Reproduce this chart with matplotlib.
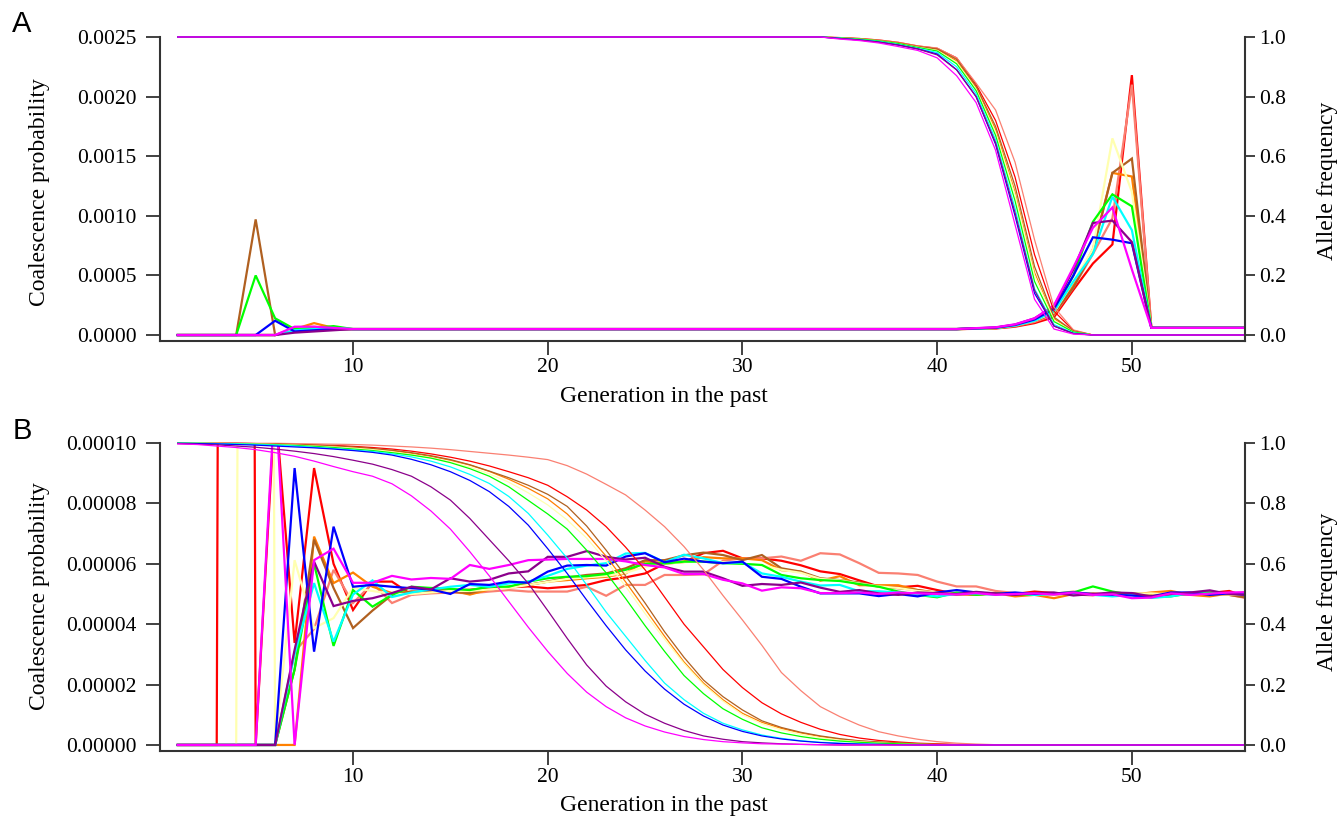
import matplotlib
matplotlib.use("Agg")
import numpy as np
import matplotlib.pyplot as plt
from matplotlib.ticker import FormatStrFormatter, FixedLocator
from matplotlib.patches import Rectangle

plt.rcParams["font.family"] = ["Liberation Serif", "DejaVu Serif"]

# generations in the past
generations = list(range(1, 57))
x_ticks = [10, 20, 30, 40, 50]

series_names = ["red", "salmon", "orange", "brown", "lightyellow",
                "green", "cyan", "blue", "purple", "magenta"]
series_colours = ["#FF0000", "#FA8072", "#FF8000", "#B06020", "#FFFFB0",
                  "#00FF00", "#00FFFF", "#0000FF", "#8B008B", "#FF00FF"]

# ---------------- Panel A: coalescence probability ----------------
a_coal_red = [0, 0, 0, 0, 0, 0, 5e-5, 6e-5, 5e-5] + [5e-5] * 32 + \
    [5.2e-5, 5.5e-5, 7.0e-5, 1.0e-4, 1.5e-4, 3.8e-4, 6.0e-4, 7.6e-4, 2.18e-3] + [6e-5] * 6
a_coal_salmon = [0, 0, 0, 0, 0, 0, 6e-5, 7e-5, 5e-5] + [5e-5] * 32 + \
    [5.3e-5, 5.7e-5, 7.5e-5, 1.1e-4, 1.7e-4, 4.0e-4, 6.8e-4, 9.8e-4, 2.10e-3] + [6e-5] * 6
a_coal_orange = [0, 0, 0, 0, 0, 0, 5e-5, 1.0e-4, 6e-5] + [5e-5] * 32 + \
    [5.3e-5, 5.8e-5, 7.8e-5, 1.2e-4, 1.8e-4, 4.2e-4, 7.2e-4, 1.36e-3, 1.33e-3] + [6e-5] * 6
a_coal_brown = [0, 0, 0, 0, 9.7e-4, 0, 4e-5, 6e-5, 5e-5] + [5e-5] * 32 + \
    [5.3e-5, 5.8e-5, 7.7e-5, 1.2e-4, 1.8e-4, 4.0e-4, 7.0e-4, 1.36e-3, 1.48e-3] + [6e-5] * 6
a_coal_lightyellow = [0, 0, 0, 0, 0, 0, 5e-5, 7e-5, 5e-5] + [5e-5] * 32 + \
    [5.4e-5, 5.9e-5, 8.0e-5, 1.2e-4, 1.9e-4, 4.5e-4, 7.2e-4, 1.65e-3, 1.20e-3] + [6e-5] * 6
a_coal_green = [0, 0, 0, 0, 5.0e-4, 1.4e-4, 5e-5, 6e-5, 7.5e-5] + [5e-5] * 32 + \
    [5.5e-5, 6.0e-5, 8.2e-5, 1.3e-4, 2.0e-4, 5.0e-4, 9.5e-4, 1.18e-3, 1.08e-3] + [6e-5] * 6
a_coal_cyan = [0, 0, 0, 0, 0, 0, 4e-5, 5e-5, 6e-5] + [5e-5] * 32 + \
    [5.5e-5, 6.0e-5, 8.0e-5, 1.2e-4, 2.0e-4, 4.5e-4, 6.8e-4, 1.16e-3, 8.8e-4] + [6e-5] * 6
a_coal_blue = [0, 0, 0, 0, 0, 1.2e-4, 3e-5, 4e-5, 5e-5] + [5e-5] * 32 + \
    [5.6e-5, 6.2e-5, 8.5e-5, 1.3e-4, 2.2e-4, 5.0e-4, 8.2e-4, 8.0e-4, 7.7e-4] + [6e-5] * 6
a_coal_purple = [0, 0, 0, 0, 0, 0, 2e-5, 3e-5, 4e-5] + [5e-5] * 32 + \
    [5.7e-5, 6.3e-5, 8.8e-5, 1.4e-4, 2.4e-4, 5.5e-4, 9.4e-4, 9.6e-4, 7.8e-4] + [6e-5] * 6
a_coal_magenta = [0, 0, 0, 0, 0, 0, 7e-5, 7e-5, 6e-5] + [5e-5] * 32 + \
    [5.8e-5, 6.5e-5, 9.0e-5, 1.4e-4, 2.5e-4, 5.7e-4, 9.0e-4, 1.07e-3, 5.5e-4] + [6e-5] * 6

# ---------------- Panel A: allele frequency ----------------
a_freq_red = [1.0] * 34 + [0.998, 0.995, 0.99, 0.982, 0.97, 0.962, 0.93, 0.84, 0.72, 0.53, 0.27, 0.08, 0.015, 0] + [0.0] * 8
a_freq_salmon = [1.0] * 34 + [0.998, 0.995, 0.99, 0.982, 0.97, 0.963, 0.93, 0.845, 0.755, 0.58, 0.32, 0.094, 0.017, 0] + [0.0] * 8
a_freq_orange = [1.0] * 34 + [0.997, 0.994, 0.988, 0.98, 0.968, 0.958, 0.92, 0.83, 0.69, 0.48, 0.21, 0.055, 0.012, 0] + [0.0] * 8
a_freq_brown = [1.0] * 34 + [0.997, 0.994, 0.988, 0.98, 0.968, 0.96, 0.925, 0.835, 0.70, 0.50, 0.23, 0.06, 0.013, 0] + [0.0] * 8
a_freq_lightyellow = [1.0] * 34 + [0.997, 0.993, 0.987, 0.978, 0.966, 0.955, 0.915, 0.825, 0.68, 0.47, 0.20, 0.05, 0.01, 0] + [0.0] * 8
a_freq_green = [1.0] * 34 + [0.997, 0.993, 0.987, 0.978, 0.965, 0.953, 0.91, 0.82, 0.67, 0.45, 0.18, 0.045, 0.01, 0] + [0.0] * 8
a_freq_cyan = [1.0] * 34 + [0.996, 0.991, 0.985, 0.975, 0.962, 0.948, 0.90, 0.81, 0.655, 0.425, 0.155, 0.035, 0.007, 0] + [0.0] * 8
a_freq_blue = [1.0] * 34 + [0.995, 0.99, 0.983, 0.973, 0.96, 0.943, 0.89, 0.80, 0.64, 0.40, 0.14, 0.03, 0.005, 0] + [0.0] * 8
a_freq_purple = [1.0] * 34 + [0.995, 0.99, 0.983, 0.973, 0.96, 0.94, 0.89, 0.80, 0.645, 0.41, 0.15, 0.03, 0.005, 0] + [0.0] * 8
a_freq_magenta = [1.0] * 34 + [0.993, 0.988, 0.98, 0.968, 0.955, 0.93, 0.87, 0.78, 0.62, 0.37, 0.12, 0.02, 0.003, 0] + [0.0] * 8

# ---------------- Panel B: coalescence probability (units of 1e-5) ----------------
b_coal_red = [0, 0, 0, 200, 0, 11.3, 3.38, 9.17, 6.0, 4.47,
              5.41, 5.41, 4.98, 5.12, 5.12, 5.14, 5.2, 5.22, 5.25, 5.19,
              5.24, 5.3, 5.46, 5.55, 5.68, 6.0, 6.06, 6.35, 6.43, 6.18,
              6.18, 6.1, 5.95, 5.75, 5.66, 5.45, 5.25, 5.22, 5.27, 5.13,
              5.0, 4.97, 5.03, 5.0, 5.08, 5.03, 4.98, 4.96, 5.04, 4.98,
              4.94, 5.0, 4.98, 5.03, 5.1, 4.88]
b_coal_salmon = [0, 0, 0, 0, 0, 0, 3.08, 3.84, 5.8, 4.7,
                 5.35, 4.7, 4.97, 5.02, 5.05, 5.02, 5.08, 5.13, 5.08, 5.08,
                 5.08, 5.24, 4.94, 5.3, 5.3, 5.63, 5.63, 5.65, 6.1, 6.18,
                 6.18, 6.24, 6.1, 6.35, 6.31, 6.02, 5.7, 5.68, 5.63, 5.41,
                 5.25, 5.25, 5.1, 5.03, 4.97, 5.0, 5.08, 4.97, 5.02, 4.97,
                 4.92, 4.97, 5.02, 5.0, 4.97, 4.85]
b_coal_orange = [0, 0, 0, 0, 0, 0, 0, 6.9, 5.36, 5.71,
                 5.24, 5.03, 5.08, 5.05, 5.13, 4.98, 5.15, 5.24, 5.3, 5.41,
                 5.46, 5.52, 5.57, 5.68, 6.08, 6.02, 6.08, 6.22, 6.18, 6.18,
                 6.12, 5.79, 5.74, 5.44, 5.59, 5.29, 5.29, 5.29, 5.13, 5.05,
                 5.02, 4.97, 5.03, 4.92, 4.97, 4.86, 5.0, 5.02, 4.97, 4.97,
                 5.05, 5.1, 4.97, 4.92, 5.02, 5.05]
b_coal_brown = [0, 0, 0, 0, 0, 0, 2.5, 6.8, 5.2, 3.87,
                4.45, 4.97, 5.08, 5.08, 5.08, 5.03, 5.19, 5.24, 5.3, 5.41,
                5.54, 5.63, 5.68, 5.85, 6.12, 6.12, 6.28, 6.37, 6.29, 6.12,
                6.29, 5.85, 5.74, 5.52, 5.46, 5.38, 5.24, 5.19, 5.13, 5.03,
                4.97, 5.03, 5.0, 4.97, 5.03, 4.97, 5.03, 5.0, 4.95, 5.03,
                4.97, 4.97, 5.0, 5.05, 4.97, 4.87]
b_coal_lightyellow = [0, 0, 0, 0, 150, 0, 6.12, 3.87, 4.2, 5.2,
                      5.1, 5.0, 5.0, 5.05, 5.1, 5.1, 5.15, 5.2, 5.3, 5.4,
                      5.5, 5.55, 5.6, 5.7, 5.9, 6.0, 6.05, 6.1, 6.05, 6.0,
                      5.95, 5.8, 5.7, 5.5, 5.45, 5.35, 5.25, 5.2, 5.1, 5.05,
                      5.0, 5.0, 4.98, 5.02, 5.0, 4.98, 5.02, 5.0, 4.98, 5.0,
                      5.02, 4.98, 5.0, 5.02, 4.98, 5.0]
b_coal_green = [0, 0, 0, 0, 0, 0, 2.5, 6.0, 3.28, 5.13,
                4.58, 4.97, 5.24, 5.2, 5.17, 5.13, 5.24, 5.24, 5.41, 5.52,
                5.57, 5.59, 5.66, 5.8, 6.0, 6.01, 6.07, 6.07, 6.02, 6.0,
                5.96, 5.63, 5.52, 5.46, 5.43, 5.33, 5.24, 5.08, 4.97, 4.89,
                5.05, 4.97, 5.02, 5.0, 4.97, 5.02, 5.05, 5.25, 5.08, 4.97,
                4.89, 4.92, 5.02, 5.05, 5.0, 5.03]
b_coal_cyan = [0, 0, 0, 0, 0, 0, 3.0, 5.36, 3.42, 4.98,
               5.45, 4.9, 5.05, 5.15, 5.24, 5.3, 5.24, 5.35, 5.41, 5.6,
               5.83, 5.94, 6.02, 6.34, 6.36, 6.05, 6.3, 6.18, 6.02, 6.05,
               5.68, 5.57, 5.41, 5.28, 5.3, 5.09, 5.09, 5.05, 4.98, 4.92,
               5.0, 5.02, 4.97, 5.03, 4.97, 5.0, 5.02, 4.97, 4.92, 4.97,
               4.87, 4.92, 5.03, 5.0, 5.02, 4.97]
b_coal_blue = [0, 0, 0, 0, 0, 0, 9.17, 3.09, 7.23, 5.24,
               5.3, 5.24, 5.19, 5.15, 5.0, 5.33, 5.3, 5.41, 5.37, 5.74,
               5.94, 5.96, 5.94, 6.24, 6.35, 6.05, 6.17, 6.07, 6.02, 6.07,
               5.57, 5.5, 5.24, 5.02, 5.02, 5.02, 4.93, 5.0, 4.92, 5.05,
               5.13, 5.05, 5.0, 5.05, 5.0, 5.02, 5.05, 5.0, 4.97, 4.95,
               4.92, 5.05, 5.05, 4.97, 5.02, 4.97]
b_coal_purple = [0, 0, 0, 0, 0, 0, 3.15, 6.07, 4.6, 4.77,
                 4.86, 5.03, 5.24, 5.15, 5.52, 5.41, 5.47, 5.68, 5.75, 6.23,
                 6.23, 6.42, 6.23, 6.14, 6.2, 5.9, 5.74, 5.74, 5.52, 5.27,
                 5.33, 5.3, 5.38, 5.21, 5.07, 5.13, 5.02, 4.97, 5.05, 5.03,
                 5.0, 5.07, 5.02, 4.97, 5.03, 5.05, 4.95, 5.0, 5.05, 5.03,
                 4.92, 5.0, 5.05, 5.12, 5.0, 4.97]
b_coal_magenta = [0, 0, 0, 0, 0, 11.7, 0, 6.12, 6.5, 5.37,
                  5.37, 5.6, 5.48, 5.53, 5.5, 5.96, 5.83, 5.96, 6.12, 6.14,
                  6.16, 6.16, 6.16, 6.08, 5.96, 5.88, 5.66, 5.66, 5.47, 5.35,
                  5.11, 5.22, 5.19, 5.03, 5.03, 5.05, 5.0, 5.05, 5.02, 5.0,
                  4.98, 5.03, 4.97, 5.0, 5.02, 4.98, 5.05, 4.97, 4.99, 4.86,
                  4.88, 5.02, 4.97, 5.01, 5.05, 5.06]
B_COAL_UNIT = 1e-5

# ---------------- Panel B: allele frequency ----------------
b_freq_red = [1.0, 1.0, 1.0, 0.999, 0.998, 0.997, 0.996, 0.994, 0.992, 0.989,
              0.985, 0.98, 0.973, 0.964, 0.953, 0.94, 0.924, 0.905, 0.885, 0.86,
              0.822, 0.778, 0.723, 0.655, 0.58, 0.49, 0.40, 0.325, 0.25, 0.19,
              0.14, 0.103, 0.075, 0.052, 0.035, 0.023, 0.015, 0.01, 0.006, 0.004,
              0.002, 0.001]
b_freq_salmon = [1.0, 1.0, 1.0, 1.0, 0.999, 0.999, 0.998, 0.997, 0.996, 0.995,
                 0.993, 0.99, 0.987, 0.983, 0.978, 0.972, 0.966, 0.96, 0.953, 0.945,
                 0.925, 0.897, 0.863, 0.828, 0.778, 0.723, 0.657, 0.58, 0.495, 0.414,
                 0.33, 0.24, 0.18, 0.127, 0.094, 0.066, 0.044, 0.03, 0.019, 0.011,
                 0.006, 0.003, 0.001]
b_freq_orange = [1.0, 1.0, 0.999, 0.998, 0.997, 0.996, 0.994, 0.992, 0.989, 0.985,
                 0.98, 0.974, 0.966, 0.956, 0.943, 0.927, 0.906, 0.88, 0.85, 0.815,
                 0.765, 0.70, 0.625, 0.54, 0.45, 0.36, 0.275, 0.205, 0.15, 0.105,
                 0.075, 0.055, 0.04, 0.028, 0.019, 0.013, 0.009, 0.006, 0.004, 0.002,
                 0.001]
b_freq_brown = [1.0, 1.0, 0.999, 0.999, 0.998, 0.997, 0.995, 0.993, 0.99, 0.987,
                0.982, 0.976, 0.968, 0.958, 0.945, 0.928, 0.907, 0.885, 0.86, 0.83,
                0.79, 0.725, 0.645, 0.56, 0.47, 0.375, 0.29, 0.215, 0.16, 0.116,
                0.08, 0.058, 0.042, 0.03, 0.021, 0.014, 0.01, 0.007, 0.004, 0.002,
                0.001]
b_freq_lightyellow = [1.0, 1.0, 0.999, 0.998, 0.997, 0.995, 0.993, 0.99, 0.987, 0.983,
                      0.978, 0.971, 0.962, 0.951, 0.937, 0.92, 0.898, 0.87, 0.835, 0.795,
                      0.745, 0.685, 0.61, 0.525, 0.435, 0.35, 0.27, 0.2, 0.145, 0.1,
                      0.07, 0.05, 0.035, 0.024, 0.016, 0.011, 0.007, 0.004, 0.002, 0.001]
b_freq_green = [1.0, 0.999, 0.998, 0.997, 0.996, 0.994, 0.992, 0.989, 0.985, 0.98,
                0.975, 0.968, 0.96, 0.95, 0.935, 0.915, 0.89, 0.855, 0.81, 0.765,
                0.715, 0.645, 0.57, 0.485, 0.395, 0.31, 0.23, 0.17, 0.12, 0.085,
                0.057, 0.04, 0.028, 0.019, 0.013, 0.009, 0.006, 0.004, 0.002, 0.001]
b_freq_cyan = [0.999, 0.999, 0.998, 0.997, 0.995, 0.993, 0.99, 0.986, 0.982, 0.977,
               0.972, 0.964, 0.954, 0.94, 0.921, 0.896, 0.866, 0.823, 0.767, 0.695,
               0.618, 0.53, 0.44, 0.36, 0.28, 0.205, 0.15, 0.105, 0.072, 0.05,
               0.033, 0.022, 0.014, 0.009, 0.006, 0.004, 0.002, 0.001]
b_freq_blue = [0.999, 0.998, 0.997, 0.995, 0.993, 0.99, 0.987, 0.984, 0.98, 0.975,
               0.969, 0.96, 0.946, 0.928, 0.905, 0.876, 0.839, 0.79, 0.728, 0.65,
               0.568, 0.48, 0.395, 0.315, 0.245, 0.185, 0.135, 0.096, 0.066, 0.045,
               0.03, 0.02, 0.013, 0.008, 0.005, 0.003, 0.002, 0.001]
b_freq_purple = [0.998, 0.996, 0.994, 0.99, 0.986, 0.98, 0.973, 0.965, 0.955, 0.943,
                 0.93, 0.912, 0.89, 0.855, 0.811, 0.75, 0.68, 0.61, 0.535, 0.445,
                 0.353, 0.265, 0.195, 0.143, 0.102, 0.072, 0.048, 0.03, 0.019, 0.011,
                 0.007, 0.004, 0.002, 0.001]
b_freq_magenta = [0.997, 0.995, 0.99, 0.985, 0.978, 0.968, 0.956, 0.94, 0.922, 0.905,
                  0.89, 0.865, 0.825, 0.775, 0.715, 0.64, 0.56, 0.475, 0.39, 0.31,
                  0.237, 0.175, 0.127, 0.09, 0.063, 0.043, 0.028, 0.018, 0.011, 0.007,
                  0.004, 0.003, 0.002, 0.001]

a_coal = [a_coal_red, a_coal_salmon, a_coal_orange, a_coal_brown, a_coal_lightyellow,
          a_coal_green, a_coal_cyan, a_coal_blue, a_coal_purple, a_coal_magenta]
a_freq = [a_freq_red, a_freq_salmon, a_freq_orange, a_freq_brown, a_freq_lightyellow,
          a_freq_green, a_freq_cyan, a_freq_blue, a_freq_purple, a_freq_magenta]
b_coal = [b_coal_red, b_coal_salmon, b_coal_orange, b_coal_brown, b_coal_lightyellow,
          b_coal_green, b_coal_cyan, b_coal_blue, b_coal_purple, b_coal_magenta]
b_freq = [b_freq_red, b_freq_salmon, b_freq_orange, b_freq_brown, b_freq_lightyellow,
          b_freq_green, b_freq_cyan, b_freq_blue, b_freq_purple, b_freq_magenta]


def to_length(values, n):
    """Frequencies that have reached zero stay at zero."""
    return list(values) + [0.0] * (n - len(values))


W, H = 1343, 819
fig = plt.figure(figsize=(W / 100, H / 100), dpi=100)

SPINE = "#333333"
TICK_FS = 15.5
LABEL_FS = 17
XLIM = (0.087, 55.81)


def style_panel(ax, ax2, ylim, yticks, yfmt, flim):
    ax.set_xlim(*XLIM)
    ax.set_ylim(*ylim)
    ax2.set_ylim(*flim)
    for a in (ax, ax2):
        a.spines["top"].set_visible(False)
    ax2.spines["left"].set_visible(False)
    ax2.spines["bottom"].set_visible(False)
    ax.spines["right"].set_visible(False)
    for s in ("left", "bottom"):
        ax.spines[s].set_color(SPINE)
        ax.spines[s].set_linewidth(1.5)
    ax2.spines["right"].set_color(SPINE)
    ax2.spines["right"].set_linewidth(1.5)

    ax.xaxis.set_major_locator(FixedLocator(x_ticks))
    ax.yaxis.set_major_locator(FixedLocator(yticks))
    ax.yaxis.set_major_formatter(FormatStrFormatter(yfmt))
    ax2.yaxis.set_major_locator(FixedLocator([0.0, 0.2, 0.4, 0.6, 0.8, 1.0]))
    ax2.yaxis.set_major_formatter(FormatStrFormatter("%.1f"))

    ax.tick_params(axis="y", direction="out", length=10, width=1.3, color=SPINE,
                   pad=7, labelsize=TICK_FS)
    ax.tick_params(axis="x", direction="out", length=10, width=1.3, color=SPINE,
                   pad=2, labelsize=TICK_FS)
    ax2.tick_params(axis="y", direction="out", length=7, width=1.3, color=SPINE,
                    pad=3, labelsize=TICK_FS)


def draw_panel(ax, coal, freq, scale):
    ax2 = ax.twinx()
    for vals, col in zip(coal, series_colours):
        ax.plot(generations, np.asarray(vals) * scale, color=col, lw=1.6,
                solid_joinstyle="miter")
    for vals, col in zip(freq, series_colours):
        line, = ax2.plot(generations, to_length(vals, len(generations)),
                         color=col, lw=0.9)
        line.set_clip_path(Rectangle((0, -0.02), 1, 1.04, transform=ax2.transAxes))
    return ax2


axA = fig.add_axes([160 / W, 1 - 341 / H, 1085 / W, 304 / H])
axA2 = draw_panel(axA, a_coal, a_freq, 1.0)
style_panel(axA, axA2, (-0.00005, 0.0025),
            [0, 0.0005, 0.0010, 0.0015, 0.0020, 0.0025], "%.4f", (-0.0201, 1.0))

axB = fig.add_axes([160 / W, 1 - 751 / H, 1085 / W, 308 / H])
axB2 = draw_panel(axB, b_coal, b_freq, B_COAL_UNIT)
style_panel(axB, axB2, (-0.000002, 0.0001),
            [0, 0.00002, 0.00004, 0.00006, 0.00008, 0.00010], "%.5f", (-0.0199, 1.0))

# axis titles
for yc_left, yc_right, yc_bottom in ((192, 181, 396), (596, 592, 805)):
    fig.text(40 / W, 1 - yc_left / H, "Coalescence probability", rotation=90,
             ha="center", va="center", fontsize=LABEL_FS)
    fig.text(1328 / W, 1 - yc_right / H, "Allele frequency", rotation=90,
             ha="center", va="center", fontsize=LABEL_FS)
    fig.text(664 / W, 1 - yc_bottom / H, "Generation in the past",
             ha="center", va="center", fontsize=LABEL_FS)

# panel letters
for letter, yc in (("A", 24), ("B", 431)):
    fig.text(22 / W, 1 - yc / H, letter, ha="center", va="center", fontsize=21,
             family=["Liberation Sans", "DejaVu Sans"])

fig.savefig("out.png", dpi=100)
